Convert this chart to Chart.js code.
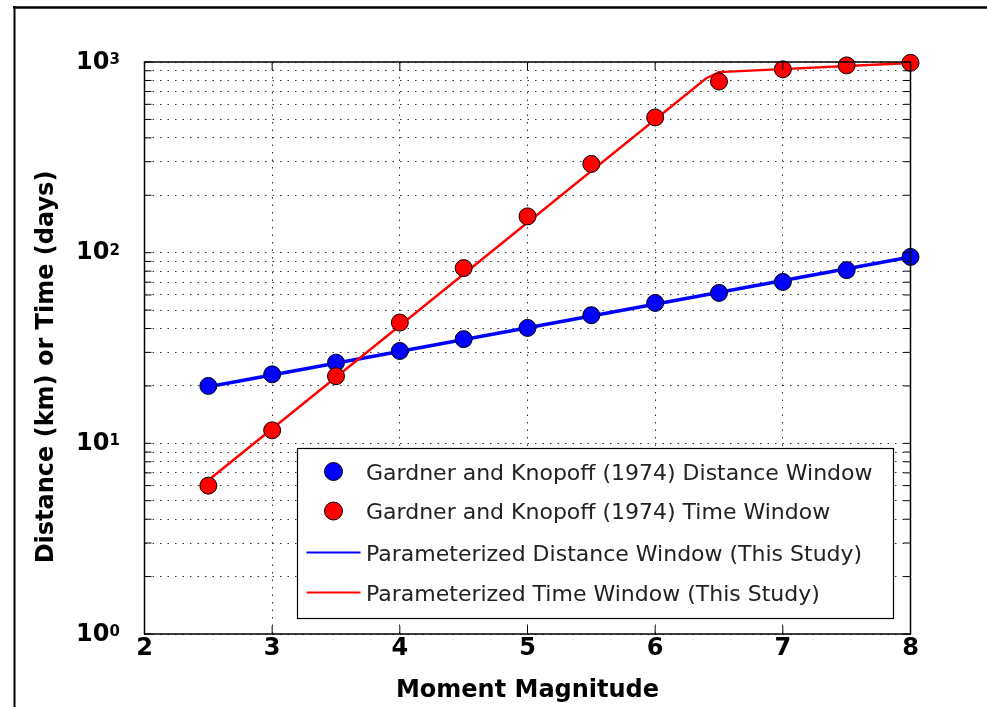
<!DOCTYPE html>
<html>
<head>
<meta charset="utf-8">
<script src="https://cdn.jsdelivr.net/npm/chart.js@4.4.1/dist/chart.umd.min.js"></script>
<style>
  html, body { margin: 0; padding: 0; background: #fff; }
  #wrap { width: 987px; height: 707px; position: relative; }
</style>
</head>
<body>
<div id="wrap"><canvas id="chart"></canvas></div>
<script>
// Gardner & Knopoff (1974) windows
const magnitudes = [2.5, 3, 3.5, 4, 4.5, 5, 5.5, 6, 6.5, 7, 7.5, 8];
const gkDistance = [20, 23, 26.5, 30.5, 35.2, 40.3, 47, 54.5, 61.5, 70.2, 81, 95];
const gkTime = [6, 11.7, 22.5, 43, 83, 155, 292, 512, 790, 915, 960, 990];

// parameterized fits (this study) – break points of the drawn lines
const fitDistMag = [2.5, 8];
const fitDist = [19.8, 95];
const fitTimeMag = [2.5, 6.4, 6.5, 8];
const fitTime = [6.4, 822, 885, 988];

const xTicks = [2, 3, 4, 5, 6, 7, 8];
const yTicks = [1, 2, 3, 4, 5, 6, 7, 8, 9, 10, 20, 30, 40, 50, 60, 70, 80, 90,
  100, 200, 300, 400, 500, 600, 700, 800, 900, 1000];
const yDecades = [1, 10, 100, 1000];

const FONT = "'DejaVu Sans', sans-serif";
const BLUE = '#0000ff';
const RED = '#ff0000';

const pts = (xs, ys) => xs.map((x, i) => ({ x, y: ys[i] }));

// figure frame, axes box, inward ticks, y labels, y title and legend
const overlay = {
  id: 'overlay',
  afterDraw(chart) {
    const { ctx, chartArea: a, scales: { x, y } } = chart;
    ctx.save();
    ctx.strokeStyle = '#000';

    ctx.lineWidth = 2.5;
    ctx.beginPath(); ctx.moveTo(13, 7.5); ctx.lineTo(987, 7.5); ctx.stroke();
    ctx.lineWidth = 2;
    ctx.beginPath(); ctx.moveTo(14.5, 6); ctx.lineTo(14.5, 707); ctx.stroke();

    ctx.lineWidth = 1.5;
    ctx.strokeRect(a.left, a.top, a.right - a.left, a.bottom - a.top);

    ctx.lineWidth = 1;
    ctx.beginPath();
    y.ticks.forEach(t => {
      const py = y.getPixelForValue(t.value);
      ctx.moveTo(a.left, py); ctx.lineTo(a.left + 7, py);
      ctx.moveTo(a.right, py); ctx.lineTo(a.right - 7, py);
    });
    x.ticks.forEach(t => {
      const px = x.getPixelForValue(t.value);
      ctx.moveTo(px, a.bottom); ctx.lineTo(px, a.bottom - 8);
      ctx.moveTo(px, a.top); ctx.lineTo(px, a.top + 8);
    });
    ctx.stroke();

    // y tick labels 10^n
    ctx.fillStyle = '#000';
    ctx.textAlign = 'left';
    ctx.textBaseline = 'alphabetic';
    yDecades.forEach((v, i) => {
      const py = y.getPixelForValue(v);
      ctx.font = 'bold 24px ' + FONT;
      ctx.fillText('10', 76, py + 6.5);
      const w = ctx.measureText('10').width;
      ctx.font = 'bold 15px ' + FONT;
      ctx.fillText(String(i), 76 + w, py + 2);
    });

    // y title
    ctx.save();
    ctx.translate(53, 367);
    ctx.rotate(-Math.PI / 2);
    ctx.font = 'bold 24px ' + FONT;
    ctx.textAlign = 'center';
    ctx.fillText('Distance (km) or Time (days)', 0, 0);
    ctx.restore();

    // legend
    const box = { left: 297, top: 448, right: 893, bottom: 618 };
    ctx.fillStyle = '#fff';
    ctx.fillRect(box.left, box.top, box.right - box.left, box.bottom - box.top);
    ctx.lineWidth = 1.2;
    ctx.strokeRect(box.left + 0.5, box.top + 0.5, box.right - box.left, box.bottom - box.top);
    const rows = [471.5, 511, 552.5, 592.5];
    ctx.font = '22px ' + FONT;
    chart.data.datasets.forEach((ds, i) => {
      const ry = rows[i];
      if (ds.showLine === false) {
        ctx.beginPath();
        ctx.arc(333.5, ry, 9, 0, Math.PI * 2);
        ctx.fillStyle = ds.pointBackgroundColor;
        ctx.fill();
        ctx.lineWidth = 1;
        ctx.strokeStyle = '#000';
        ctx.stroke();
      } else {
        ctx.beginPath();
        ctx.moveTo(306.5, ry); ctx.lineTo(360.5, ry);
        ctx.lineWidth = 2;
        ctx.strokeStyle = ds.borderColor;
        ctx.stroke();
      }
      ctx.fillStyle = '#222';
      ctx.fillText(ds.label, 366, ry + 8);
    });
    ctx.restore();
  }
};

new Chart(document.getElementById('chart'), {
  type: 'line',
  data: {
    datasets: [
      {
        label: 'Gardner and Knopoff (1974) Distance Window',
        data: pts(magnitudes, gkDistance),
        showLine: false,
        pointRadius: 8.5,
        pointBackgroundColor: BLUE,
        pointBorderColor: '#000',
        pointBorderWidth: 1,
        clip: false,
        order: 1,
      },
      {
        label: 'Gardner and Knopoff (1974) Time Window',
        data: pts(magnitudes, gkTime),
        showLine: false,
        pointRadius: 8.5,
        pointBackgroundColor: RED,
        pointBorderColor: '#000',
        pointBorderWidth: 1,
        clip: false,
        order: 0,
      },
      {
        label: 'Parameterized Distance Window (This Study)',
        data: pts(fitDistMag, fitDist),
        borderColor: BLUE,
        borderWidth: 3.5,
        pointRadius: 0,
        tension: 0,
        clip: false,
        order: 3,
      },
      {
        label: 'Parameterized Time Window (This Study)',
        data: pts(fitTimeMag, fitTime),
        borderColor: RED,
        borderWidth: 2.5,
        pointRadius: 0,
        tension: 0,
        clip: false,
        order: 2,
      },
    ],
  },
  options: {
    responsive: true,
    maintainAspectRatio: false,
    animation: false,
    devicePixelRatio: 1,
    layout: { padding: { left: 14, top: 62, right: 76.5, bottom: 0 } },
    plugins: { legend: { display: false }, tooltip: { enabled: false } },
    scales: {
      x: {
        type: 'linear',
        min: 2,
        max: 8,
        afterBuildTicks: s => { s.ticks = xTicks.map(v => ({ value: v })); },
        afterFit: s => { s.height = 73; },
        ticks: { color: '#000', padding: 0, font: { family: FONT, size: 24, weight: 'bold' } },
        grid: { color: '#333', lineWidth: 1, drawTicks: false },
        border: { display: false, dash: [1.5, 6] },
        title: {
          display: true,
          text: 'Moment Magnitude',
          color: '#000',
          font: { family: FONT, size: 24, weight: 'bold' },
          padding: { top: 0, bottom: 2 },
        },
      },
      y: {
        type: 'logarithmic',
        min: 1,
        max: 1000,
        afterBuildTicks: s => { s.ticks = yTicks.map(v => ({ value: v })); },
        afterFit: s => { s.width = 130.5; },
        ticks: { display: false },
        grid: { color: '#333', lineWidth: 1, drawTicks: false },
        border: { display: false, dash: [1.5, 6] },
      },
    },
  },
  plugins: [overlay],
});
</script>
</body>
</html>
